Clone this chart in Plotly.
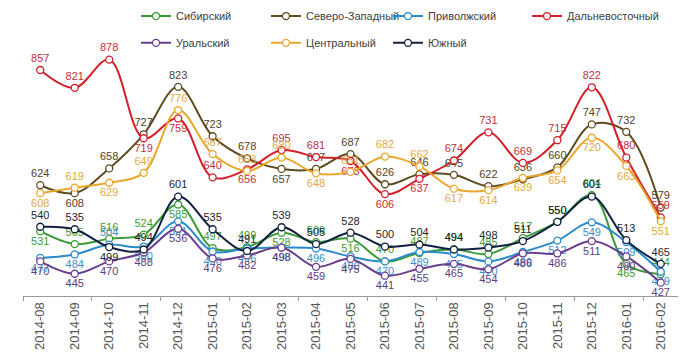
import plotly.graph_objects as go

months = ["2014-08", "2014-09", "2014-10", "2014-11", "2014-12", "2015-01", "2015-02",
          "2015-03", "2015-04", "2015-05", "2015-06", "2015-07", "2015-08", "2015-09",
          "2015-10", "2015-11", "2015-12", "2016-01", "2016-02"]

sibirsky = [531, 505, 516, 524, 585, 497, 499, 528, 509, 516, 470, 487, 494, 485, 517, 550, 604, 465, 444]
severo_zapadny = [624, 608, 658, 727, 823, 723, 678, 657, 657, 687, 626, 646, 645, 622, 636, 660, 747, 732, 579]
privolzhsky = [477, 484, 504, 500, 551, 490, 496, 498, 496, 480, 470, 489, 485, 470, 489, 512, 549, 509, 449]
dalnevostochny = [857, 821, 878, 719, 759, 640, 656, 695, 681, 673, 606, 637, 674, 731, 669, 715, 822, 680, 559]
uralsky = [470, 445, 470, 488, 536, 476, 482, 498, 459, 475, 441, 455, 465, 454, 486, 486, 511, 480, 427]
centralny = [608, 619, 629, 649, 776, 687, 653, 680, 648, 651, 682, 662, 617, 614, 639, 654, 720, 663, 551]
yuzhny = [540, 535, 499, 494, 601, 535, 491, 539, 505, 528, 500, 504, 494, 498, 511, 550, 601, 513, 465]

T, B = "top center", "bottom center"

series = [
    # name, values, line colour, label colour, label positions, legend text x(px), legend y(px)
    ("Сибирский", sibirsky, "#3b9a35", "#3f9a3a",
     [B, T, T, T, B, T, T, B, T, B, T, T, T, T, T, T, T, B, T], 176, 14),
    ("Северо-Западный", severo_zapadny, "#5e4b1f", "#4f4326",
     [T, B, T, T, T, T, T, B, T, T, T, T, T, T, T, T, T, T, T], 306, 14),
    ("Приволжский", privolzhsky, "#2b8bc9", "#3a8fc8",
     [B, B, T, B, B, B, B, B, B, B, B, B, B, B, B, B, B, B, B], 428, 14),
    ("Дальневосточный", dalnevostochny, "#d21f2a", "#c3303a",
     [T, T, T, B, B, T, B, T, T, B, B, B, T, T, T, T, T, T, T], 567, 14),
    ("Уральский", uralsky, "#6a3e8e", "#5e4080",
     [B] * 19, 176, 41),
    ("Центральный", centralny, "#e9a82b", "#e2aa45",
     [B, T, B, T, T, T, T, T, B, T, T, T, B, B, B, B, B, B, B], 306, 41),
    ("Южный", yuzhny, "#11213f", "#1c1f2c",
     [T, T, B, T, T, T, T, T, T, T, T, T, T, T, T, T, T, T, T], 428, 41),
]

ML, MR, MT, MB = 23, 2, 22, 56
W, H = 680, 352
PW, PH = W - ML - MR, H - MT - MB

xs = list(range(len(months)))

fig = go.Figure()
layout_legends = {}
for i, (name, vals, col, lcol, pos, lx, ly) in enumerate(series):
    lg = "legend" if i == 0 else f"legend{i + 1}"
    fig.add_trace(go.Scatter(
        x=xs, y=vals, name=name, mode="lines+markers+text",
        line=dict(color=col, width=2, shape="spline", smoothing=1.0),
        marker=dict(symbol="circle", size=7, color="white", line=dict(color=col, width=1.3)),
        text=[str(v) for v in vals], textposition=pos,
        textfont=dict(family="Liberation Sans, Arial, sans-serif", size=11, color=lcol),
        cliponaxis=False, legend=lg,
    ))
    layout_legends[lg] = dict(
        x=(lx - 40 - ML) / PW, y=(MT + PH - ly) / PH,
        xanchor="left", yanchor="middle", orientation="v",
        bgcolor="rgba(0,0,0,0)", borderwidth=0,
        font=dict(family="Liberation Sans, Arial, sans-serif", size=11, color="#404040"),
    )

fig.update_layout(
    width=W, height=H,
    margin=dict(l=ML, r=MR, t=MT, b=MB, pad=0),
    paper_bgcolor="white", plot_bgcolor="white",
    showlegend=True,
    xaxis=dict(
        range=[-0.5, len(months) - 0.5], tickmode="array", tickvals=xs, ticktext=months,
        tickangle=-90, ticks="", showgrid=False, zeroline=False,
        showline=True, linecolor="#9a9a9a", linewidth=1,
        tickfont=dict(family="Liberation Sans, Arial, sans-serif", size=13, color="#555555"),
        minor=dict(ticks="outside", tick0=1.5, dtick=2, ticklen=4, tickcolor="#9a9a9a", showgrid=False),
    ),
    yaxis=dict(range=[400, 950], visible=False, showgrid=False, zeroline=False),
    **layout_legends,
)

fig.write_html("out.html")
